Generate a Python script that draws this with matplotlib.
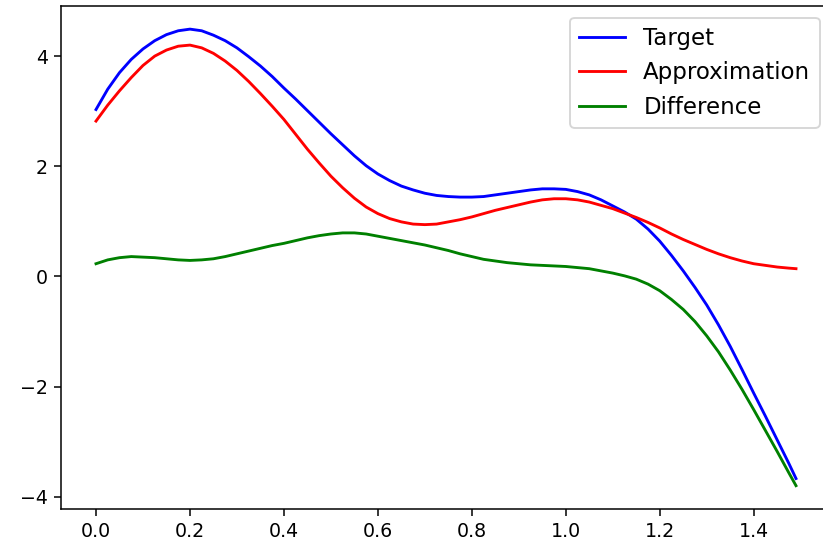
import matplotlib
matplotlib.use("Agg")
import matplotlib.pyplot as plt

x = [0.000, 0.025, 0.050, 0.075, 0.100, 0.125, 0.150, 0.175, 0.200, 0.225,
     0.250, 0.275, 0.300, 0.325, 0.350, 0.375, 0.400, 0.425, 0.450, 0.475,
     0.500, 0.525, 0.550, 0.575, 0.600, 0.625, 0.650, 0.675, 0.700, 0.725,
     0.750, 0.775, 0.800, 0.825, 0.850, 0.875, 0.900, 0.925, 0.950, 0.975,
     1.000, 1.025, 1.050, 1.075, 1.100, 1.125, 1.150, 1.175, 1.200, 1.225,
     1.250, 1.275, 1.300, 1.325, 1.350, 1.375, 1.400, 1.425, 1.450, 1.475,
     1.490]

target = [3.03, 3.40, 3.70, 3.94, 4.13, 4.28, 4.39, 4.46, 4.49, 4.46,
          4.38, 4.28, 4.15, 3.99, 3.82, 3.63, 3.42, 3.22, 3.01, 2.80,
          2.59, 2.39, 2.19, 2.01, 1.86, 1.74, 1.64, 1.57, 1.51, 1.47,
          1.45, 1.44, 1.44, 1.45, 1.48, 1.51, 1.54, 1.57, 1.59, 1.59,
          1.58, 1.54, 1.48, 1.39, 1.28, 1.17, 1.04, 0.86, 0.64, 0.38,
          0.10, -0.20, -0.52, -0.88, -1.27, -1.69, -2.12, -2.54, -2.97, -3.40,
          -3.67]

approximation = [2.82, 3.11, 3.37, 3.61, 3.83, 4.00, 4.11, 4.18, 4.20, 4.15,
                 4.05, 3.91, 3.74, 3.54, 3.32, 3.09, 2.85, 2.58, 2.31, 2.06,
                 1.82, 1.61, 1.42, 1.26, 1.14, 1.05, 0.99, 0.95, 0.94, 0.95,
                 0.99, 1.03, 1.08, 1.14, 1.20, 1.25, 1.30, 1.35, 1.39, 1.41,
                 1.41, 1.39, 1.35, 1.29, 1.23, 1.15, 1.07, 0.98, 0.88, 0.77,
                 0.67, 0.58, 0.49, 0.41, 0.34, 0.28, 0.23, 0.20, 0.17, 0.15,
                 0.14]

difference = [0.23, 0.30, 0.34, 0.36, 0.35, 0.34, 0.32, 0.30, 0.29, 0.30,
              0.32, 0.36, 0.41, 0.46, 0.51, 0.56, 0.60, 0.65, 0.70, 0.74,
              0.77, 0.79, 0.79, 0.77, 0.73, 0.69, 0.65, 0.61, 0.57, 0.52,
              0.47, 0.41, 0.36, 0.31, 0.28, 0.25, 0.23, 0.21, 0.20, 0.19,
              0.18, 0.16, 0.14, 0.10, 0.06, 0.01, -0.05, -0.14, -0.26, -0.42,
              -0.60, -0.82, -1.08, -1.37, -1.70, -2.05, -2.42, -2.80, -3.18, -3.57,
              -3.80]

fig = plt.figure(figsize=(823 / 137.2, 548 / 137.2), dpi=137.2)
# the right edge of the axes runs just past the image, as in the screenshot
ax = fig.add_axes([61 / 823, 39.5 / 548, 770 / 823, 502.2 / 548])

ax.plot(x, target, color="b", label="Target")
ax.plot(x, approximation, color="r", label="Approximation")
ax.plot(x, difference, color="g", label="Difference")
ax.legend(loc="upper right", fontsize=12)

fig.savefig("out.png", dpi=137.2)
